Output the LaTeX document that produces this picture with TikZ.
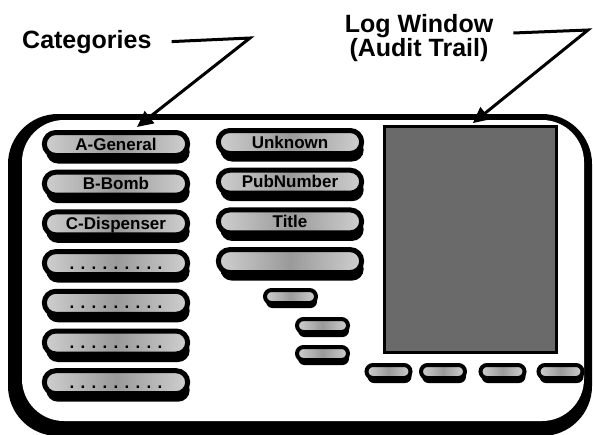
\documentclass[tikz,border=0pt]{standalone}
\usepackage{fontspec}
\setmainfont{Liberation Sans}
\usetikzlibrary{arrows.meta,shapes.misc,shadows}

\begin{document}
\begin{tikzpicture}[x=1pt, y=-1pt,
    pill/.style={rounded rectangle, draw=black, left color=pillLight, right color=pillLight, middle color=pillGray},
    btn/.style={pill, line width=5pt, minimum width=150pt, minimum height=23pt, inner ysep=3pt,
        text height=12pt, text depth=0pt, font=\bfseries\fontsize{17}{17}\selectfont,
        drop shadow={shadow xshift=2pt, shadow yshift=-8pt, fill=black, opacity=1}},
    minibtn/.style={pill, line width=4pt, minimum width=#1, minimum height=13pt, inner sep=0pt,
        drop shadow={shadow xshift=1pt, shadow yshift=-5pt, fill=black, opacity=1}},
    minibtn/.default=51pt,
    callout/.style={font=\bfseries\fontsize{25}{24}\selectfont, align=center, inner sep=0pt},
    pointer/.style={line width=3pt, -{Triangle[length=16pt,width=15pt]}}]
    \def\rowGap{39.7}

    \definecolor{pillGray}{HTML}{9A9A9A}
    \definecolor{pillLight}{HTML}{CFCFCF}
    \definecolor{logGray}{HTML}{6A6A6A}

    \useasboundingbox (0,0) rectangle (593,434);

    % Frame
    \fill[black, rounded corners=50pt] (8,114) rectangle (592,436);
    \fill[white, rounded corners=42pt] (22,120) rectangle (584,421);

    % Categories
    \foreach \txt [count=\i from 0] in {A-General, B-Bomb, C-Dispenser, {. . . . . . . . .},
        {. . . . . . . . .}, {. . . . . . . . .}, {. . . . . . . . .}}
        \node[btn] (cat\i) at (116, {144+\rowGap*\i}) {\txt};

    % Fields
    \foreach \txt [count=\i from 0] in {Unknown, PubNumber, Title, {}}
        \node[btn] (fld\i) at (290, {142+\rowGap*\i}) {\txt};

    \node[minibtn] (opt1) at (290.5,296.5) {};
    \node[minibtn] (opt2) at (322.5,325.5) {};
    \node[minibtn] (opt3) at (322.5,353.5) {};

    % Log window and its controls
    \node[draw=black, line width=3pt, fill=logGray, minimum width=172pt, minimum height=226pt] (logwin) at (470.5,239.5) {};
    \foreach \x [count=\i] in {388.5,443,502.5,560.5}
        \node[minibtn=44pt] (ctl\i) at (\x,371.5) {};

    % Callouts
    \node[callout, anchor=base west] (cats) at (22,48) {Categories};
    \node[callout] (logtxt) at (419,38) {Log Window\\(Audit Trail)};

    \coordinate (catbend) at (250,38);
    \coordinate (cattip) at (137,127);
    \coordinate (logbend) at (588,30);

    \draw[pointer] ([xshift=20pt]cats.east) -- (catbend) -- (cattip);
    \draw[pointer, shorten >=3pt] ([xshift=20pt,yshift=5pt]logtxt.east) -- (logbend) -- (logwin.north);

\end{tikzpicture}
\end{document}
